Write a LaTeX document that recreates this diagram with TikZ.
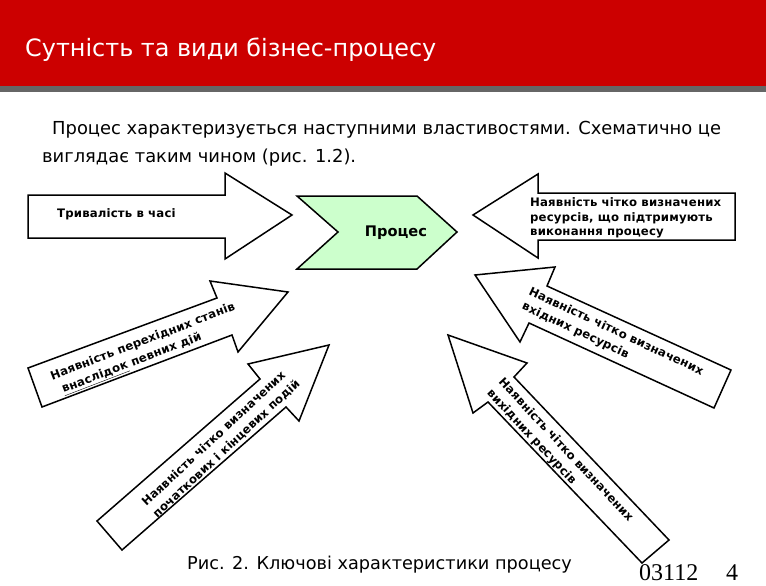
\documentclass[tikz,border=0pt]{standalone}
\usepackage{fontspec}
\setmainfont{DejaVu Sans}
\newfontfamily\numfont{Liberation Serif}
\newfontfamily\lblfamily[LetterSpace=1.5]{DejaVu Sans}
\definecolor{hdrred}{HTML}{CC0000}
\definecolor{hdrgray}{HTML}{666666}
\definecolor{procgreen}{HTML}{CCFFCC}
\begin{document}
\begin{tikzpicture}[x=1pt,y=-1pt,
  shp/.style={draw=black,line width=1.5pt,line join=miter,fill=white},
  lbl/.style={inner sep=0pt,align=left,font=\lblfamily\bfseries\fontsize{11.7}{16}\selectfont},
  plain/.style={inner sep=0pt,anchor=base west},
]
\useasboundingbox (0,0) rectangle (766,586);
\fill[white] (0,0) rectangle (766,586);
\fill[hdrred] (0,0) rectangle (766,86);
\fill[hdrgray] (0,86) rectangle (766,92);
\node[plain,text=white,font=\fontsize{23.9}{28}\selectfont] (title) at (25,57) {Сутність та види бізнес-процесу};
\node[plain,font=\fontsize{17.9}{21}\selectfont] (intro1) at (52,134.5) {Процес характеризується наступними властивостями. Схематично це};
\node[plain,font=\fontsize{17.9}{21}\selectfont] (intro2) at (42,162.5) {виглядає таким чином (рис. 1.2).};

% arrow 1 (right)
\draw[shp] (28,195) -- (225,195) -- (225,173) -- (292,215) -- (225,259) -- (225,238) -- (28,238) -- cycle;
\node[lbl,anchor=base west] (t1) at (57,217) {Тривалість в часі};

% process chevron
\draw[shp,fill=procgreen] (297,196) -- (417,196) -- (457,232) -- (417,269) -- (297,269) -- (338,232) -- cycle;
\node[inner sep=0pt,font=\bfseries\fontsize{14.6}{16}\selectfont] (proc) at (396,233) {Процес};

% arrow 2 (left)
\draw[shp] (735,193) -- (538,193) -- (538,174) -- (473,215) -- (538,258) -- (538,240) -- (735,240) -- cycle;
\node[lbl,anchor=west,font=\lblfamily\bfseries\fontsize{11.7}{14.5}\selectfont] (t2) at (530,218) {Наявність чітко визначених\\ресурсів, що підтримують\\виконання процесу};

% arrow 3
\draw[shp] (28,368) -- (217,298) -- (210,281) -- (288,292) -- (238,352) -- (232,335) -- (42,407) -- cycle;
\node[lbl,rotate=21] (t3) at (146,350) {Наявність перехідних станів\\\hspace*{6pt}\underline{внаслідок} певних дій};

% arrow 4
\draw[shp] (97,521) -- (260,379) -- (248,364) -- (329,345) -- (299,421) -- (286,407) -- (122,550) -- cycle;
\node[lbl,rotate=43] (t4) at (221,443) {Наявність чітко визначених\\початкових і кінцевих подій};

% arrow 5
\draw[shp] (731,370) -- (547,286) -- (555,267) -- (475,275) -- (520,342) -- (529,323) -- (714,408) -- cycle;
\node[lbl,rotate=-25] (t5) at (612.6,339.2) {Наявність чітко визначених\\вхідних ресурсів};

% arrow 6
\draw[shp] (669,540) -- (514,377) -- (527,363) -- (448,335) -- (473,413) -- (488,402) -- (642,563) -- cycle;
\node[lbl,rotate=-47] (t6) at (559.8,455.8) {Наявність чітко визначених\\вихідних ресурсів};

% caption and page numbers
\node[plain,font=\fontsize{17.7}{21}\selectfont] (cap) at (187,569) {Рис. 2. Ключові характеристики процесу};
\node[plain,font=\numfont\fontsize{24}{28}\selectfont] (code) at (639,580) {03112};
\node[plain,font=\numfont\fontsize{24}{28}\selectfont] (pnum) at (726,580) {4};
\end{tikzpicture}
\end{document}
